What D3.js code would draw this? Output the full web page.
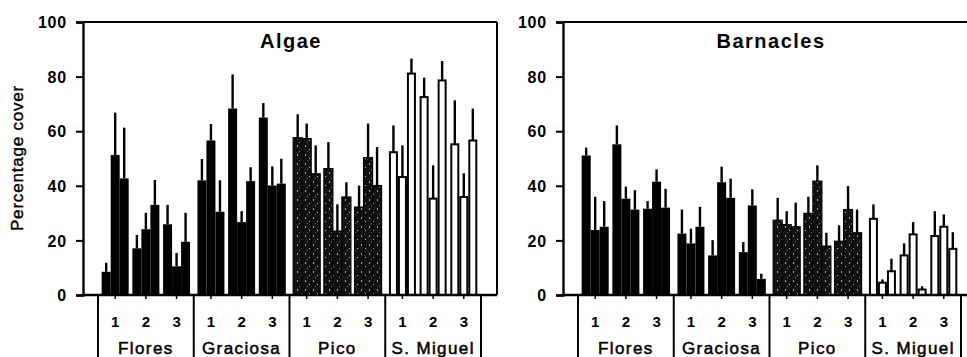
<!DOCTYPE html>
<html>
<head>
<meta charset="utf-8">
<script src="https://cdn.jsdelivr.net/npm/d3@7"></script>
<style>
  html, body { margin: 0; padding: 0; background: #fff; }
  svg { display: block; }
  text { font-family: "Liberation Sans", Arial, sans-serif; fill: #000; }
</style>
</head>
<body>
<svg id="chart" width="967" height="357"></svg>
<script>
// ---- data ----
const islands = ["Flores", "Graciosa", "Pico", "S. Miguel"];
const sites = ["1", "2", "3"];
const times = [0, 1, 2];
const yTicks = [0, 20, 40, 60, 80, 100];
const panelTitles = ["Algae", "Barnacles"];

// means, ordered island -> site -> bar
const algaeMean = [
  8.5, 51.3, 42.7,  17.1, 24.1, 33.0,  25.9, 10.5, 19.5,
  42.0, 56.6, 30.5, 68.3, 26.7, 41.7,  65.0, 40.1, 40.8,
  57.6, 57.3, 44.4, 46.3, 23.4, 35.9,  32.2, 50.3, 40.1,
  52.3, 43.2, 81.1, 72.5, 35.3, 78.6,  55.2, 35.9, 56.6
];
const algaeSE = [
  3.3, 15.5, 18.6,  4.9, 6.0, 9.1,   7.1, 4.9, 10.6,
  7.8, 6.0, 11.5,   12.5, 4.0, 5.1,  5.3, 7.0, 9.1,
  8.6, 5.5, 10.4,   9.7, 9.8, 5.4,   7.9, 12.5, 14.1,
  9.8, 11.6, 5.5,   7.1, 12.2, 7.1,  16.1, 8.7, 11.7
];
const barnMean = [
  51.1, 23.8, 25.0, 55.2, 35.3, 31.3, 31.6, 41.5, 32.0,
  22.5, 18.9, 25.0, 14.5, 41.3, 35.6, 15.7, 32.8, 5.9,
  27.4, 25.8, 25.0, 29.9, 41.7, 17.9, 19.7, 31.3, 22.8,
  27.9, 4.5, 8.7,   14.5, 22.2, 2.0,  21.6, 25.0, 16.9
];
const barnSE = [
  2.9, 12.2, 9.4,  6.9, 4.4, 7.1,  2.8, 4.5, 6.9,
  8.8, 5.4, 7.3,   5.6, 5.7, 7.0,  3.7, 5.9, 1.9,
  8.2, 4.9, 8.8,   6.1, 5.8, 4.9,  5.8, 8.6, 8.5,
  5.3, 1.2, 4.6,   4.4, 4.5, 1.2,  9.1, 4.5, 6.1
];

function buildRows(means, ses) {
  const rows = [];
  let k = 0;
  islands.forEach(isl => sites.forEach(s => times.forEach(t => {
    rows.push({ island: isl, site: s, t: t, mean: means[k], se: ses[k] });
    k++;
  })));
  return rows;
}
const panels = [
  { title: panelTitles[0], rows: buildRows(algaeMean, algaeSE) },
  { title: panelTitles[1], rows: buildRows(barnMean, barnSE) }
];

// ---- drawing ----
const svg = d3.select("#chart");
const defs = svg.append("defs");
const pat = defs.append("pattern").attr("id", "stipple")
  .attr("patternUnits", "userSpaceOnUse").attr("width", 8).attr("height", 9);
pat.append("rect").attr("width", 8).attr("height", 9).attr("fill", "#111");
pat.append("rect").attr("x", 1).attr("y", 1).attr("width", 1).attr("height", 2).attr("fill", "#a0a0a0");
pat.append("rect").attr("x", 5).attr("y", 5).attr("width", 1).attr("height", 1).attr("fill", "#c0c0c0");
pat.append("rect").attr("x", 3).attr("y", 7).attr("width", 1).attr("height", 1).attr("fill", "#707070");

const fills = { "Flores": "#000", "Graciosa": "#000", "Pico": "url(#stipple)", "S. Miguel": "#fff" };

const plotTop = 22, plotBase = 295, plotBottom = 357;
const y = d3.scaleLinear().domain([0, 100]).range([plotBase, plotTop]);

panels.forEach((p, pi) => {
  const off = pi * 480;
  const axisX = 83 + off, rightX = 497 + off;
  const g = svg.append("g");

  const xIsland = d3.scaleBand().domain(islands).range([98 + off, 481 + off]).padding(0);
  const xSite = d3.scaleBand().domain(sites).range([0, xIsland.bandwidth()])
    .paddingInner(0.12).paddingOuter(0.12);
  const xBar = d3.scaleBand().domain(times).range([0, xSite.bandwidth()]).padding(0);

  // bars
  const bx = d => xIsland(d.island) + xSite(d.site) + xBar(d.t);
  g.selectAll("rect.bar").data(p.rows).enter().append("rect")
    .attr("class", "bar")
    .attr("x", d => d.island === "S. Miguel" ? bx(d) + 1 : bx(d))
    .attr("width", d => d.island === "S. Miguel" ? xBar.bandwidth() - 2 : xBar.bandwidth())
    .attr("y", d => y(d.mean))
    .attr("height", d => plotBase - y(d.mean))
    .attr("fill", d => fills[d.island])
    .attr("stroke", d => d.island === "Flores" || d.island === "Graciosa" ? "none" : "#000")
    .attr("stroke-width", d => d.island === "S. Miguel" ? 2 : 1.2);

  // error bars (upper only)
  g.selectAll("line.err").data(p.rows).enter().append("line")
    .attr("class", "err")
    .attr("x1", d => bx(d) + xBar.bandwidth() / 2)
    .attr("x2", d => bx(d) + xBar.bandwidth() / 2)
    .attr("y1", d => y(d.mean))
    .attr("y2", d => y(d.mean + d.se))
    .attr("stroke", "#000").attr("stroke-width", 2.4);

  // frame: top, right, baseline
  g.append("line").attr("x1", axisX).attr("x2", rightX).attr("y1", plotTop).attr("y2", plotTop)
    .attr("stroke", "#000").attr("stroke-width", 2);
  g.append("line").attr("x1", rightX).attr("x2", rightX).attr("y1", plotTop).attr("y2", plotBase)
    .attr("stroke", "#000").attr("stroke-width", 2);
  g.append("line").attr("x1", axisX).attr("x2", rightX).attr("y1", plotBase).attr("y2", plotBase)
    .attr("stroke", "#000").attr("stroke-width", 2.4);

  // y axis
  const ya = g.append("g").attr("transform", `translate(${axisX},0)`)
    .call(d3.axisLeft(y).tickValues(yTicks).tickSize(7).tickPadding(9).tickFormat(d3.format("d")));
  ya.select(".domain").attr("stroke", "#000").attr("stroke-width", 2.4);
  ya.selectAll(".tick line").attr("stroke", "#000").attr("stroke-width", 2);
  ya.selectAll(".tick text").style("font-size", "16px").style("font-weight", "bold")
    .style("letter-spacing", "0.8px").attr("dy", "0.36em")
    .style("font-family", "'Liberation Sans', Arial, sans-serif");

  // site ticks + labels
  const siteCenters = [];
  islands.forEach(isl => sites.forEach(s => siteCenters.push({
    isl, s, cx: xIsland(isl) + xSite(s) + xSite.bandwidth() / 2 })));
  g.selectAll("line.stick").data(siteCenters).enter().append("line")
    .attr("class", "stick")
    .attr("x1", d => d.cx).attr("x2", d => d.cx).attr("y1", plotBase).attr("y2", plotBase + 4)
    .attr("stroke", "#000").attr("stroke-width", 1.5);
  g.selectAll("text.site").data(siteCenters).enter().append("text")
    .attr("class", "site")
    .attr("x", d => d.cx).attr("y", 327).attr("text-anchor", "middle")
    .style("font-size", "15px").style("font-weight", "bold").text(d => d.s);

  // island separators
  const seps = islands.map(i => xIsland(i)).concat([xIsland.range()[1]]);
  g.selectAll("line.sep").data(seps).enter().append("line")
    .attr("class", "sep")
    .attr("x1", d => d).attr("x2", d => d).attr("y1", plotBase).attr("y2", plotBottom)
    .attr("stroke", "#000").attr("stroke-width", 2);

  // island labels
  g.selectAll("text.isl").data(islands).enter().append("text")
    .attr("class", "isl")
    .attr("x", d => xIsland(d) + xIsland.bandwidth() / 2).attr("y", 354)
    .attr("text-anchor", "middle")
    .style("font-size", "17px").style("letter-spacing", "1.4px")
    .attr("stroke", "#000").attr("stroke-width", 0.5)
    .text(d => d);

  // title
  g.append("text").attr("x", (axisX + rightX) / 2 + 1).attr("y", 48)
    .attr("text-anchor", "middle")
    .style("font-size", "20px").style("font-weight", "bold").style("letter-spacing", "1.5px")
    .text(p.title);
});

// y axis label
svg.append("text")
  .attr("transform", "translate(23,158) rotate(-90)")
  .attr("text-anchor", "middle")
  .style("font-size", "17px").style("letter-spacing", "0.8px")
  .attr("stroke", "#000").attr("stroke-width", 0.4)
  .text("Percentage cover");
</script>
</body>
</html>
